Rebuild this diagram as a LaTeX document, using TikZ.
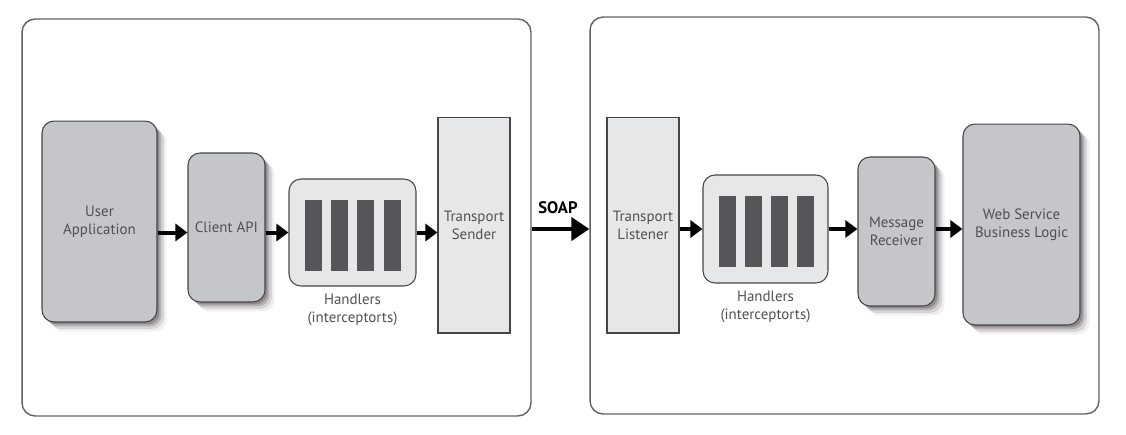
\documentclass[tikz,border=0pt]{standalone}
\usepackage{fontspec}
\setmainfont{PT Sans}
\usetikzlibrary{arrows.meta,shadows,positioning}

\definecolor{boxdark}{RGB}{196,198,202}
\definecolor{boxlight}{RGB}{230,231,232}
\definecolor{barfill}{RGB}{85,86,90}
\definecolor{edgegray}{RGB}{70,70,72}
\definecolor{textgray}{RGB}{80,80,82}
\definecolor{shadowgray}{RGB}{60,50,55}

\tikzset{
  panel/.style={draw=edgegray!85, line width=0.8pt, rounded corners=0.26cm,
    minimum width=10.18cm, minimum height=7.94cm, inner sep=0pt},
  boxtext/.style={text=textgray, align=center, inner sep=0pt,
    font=\fontsize{8.5}{10.4}\selectfont},
  darkbox/.style={boxtext, draw=edgegray, line width=0.6pt, fill=boxdark,
    rounded corners=0.24cm,
    drop shadow={shadow xshift=0.19cm, shadow yshift=-0.19cm, opacity=0.08, fill=shadowgray},
    drop shadow={shadow xshift=0.14cm, shadow yshift=-0.14cm, opacity=0.14, fill=shadowgray},
    drop shadow={shadow xshift=0.09cm, shadow yshift=-0.09cm, opacity=0.22, fill=shadowgray},
    drop shadow={shadow xshift=0.05cm, shadow yshift=-0.05cm, opacity=0.3, fill=shadowgray}},
  lightbox/.style={boxtext, draw=edgegray, line width=0.6pt, fill=boxlight},
  handlerbox/.style={lightbox, rounded corners=0.24cm},
  bar/.style={fill=barfill, minimum width=0.34cm, minimum height=1.42cm, inner sep=0pt},
  hlabel/.style={boxtext},
  flow/.style={-{Triangle[length=0.24cm, width=0.34cm]}, line width=0.08cm},
  bigflow/.style={-{Triangle[length=0.36cm, width=0.46cm]}, line width=0.08cm}
}

\begin{document}
\begin{tikzpicture}[x=0.02cm, y=-0.02cm]
\useasboundingbox (0,0) rectangle (1126,434);

% the two sides
\node[panel] (client) at (276.5,217.5) {};
\node[panel] (server) at (844.5,215.5) {};

% client side
\node[darkbox, minimum width=2.30cm, minimum height=4.02cm] (userapp) at (99.5,221.5) {User\\Application};
\node[darkbox, minimum width=1.54cm, minimum height=2.98cm] (clientapi) at (226.5,227.5) {Client API};
\node[handlerbox, minimum width=2.54cm, minimum height=2.14cm] (handlersA) at (352.5,232.5) {};
\foreach \bx [count=\i] in {313.5,339.5,365.5,392}
  \node[bar] (barA\i) at (\bx,235.5) {};
\node[hlabel, below=0.14cm of handlersA] (capA) {Handlers\\(interceptorts)};
\node[lightbox, minimum width=1.44cm, minimum height=4.32cm] (sender) at (474,225) {Transport\\Sender};

% server side
\node[lightbox, minimum width=1.44cm, minimum height=4.32cm] (listener) at (643,225) {Transport\\Listener};
\node[handlerbox, minimum width=2.50cm, minimum height=2.16cm] (handlersB) at (765.5,229) {};
\foreach \bx [count=\i] in {727,753,779.5,805.5}
  \node[bar] (barB\i) at (\bx,231.5) {};
\node[hlabel, below=0.14cm of handlersB] (capB) {Handlers\\(interceptorts)};
\node[darkbox, minimum width=1.54cm, minimum height=2.98cm] (receiver) at (896.5,231.5) {Message\\Receiver};
\node[darkbox, minimum width=2.34cm, minimum height=4.02cm] (logic) at (1021.5,224.5) {Web Service\\Business Logic};

% arrows
\draw[flow] (userapp.east |- handlersA.west) -- (clientapi.west |- handlersA.west);
\draw[flow] (clientapi.east |- handlersA.west) -- (handlersA.west);
\draw[flow] (handlersA.east) -- (sender.west |- handlersA.east);
\draw[bigflow] (client.east |- handlersB.west) -- (server.west |- handlersB.west);
\draw[flow] (listener.east |- handlersB.west) -- (handlersB.west);
\draw[flow] (handlersB.east) -- (receiver.west |- handlersB.east);
\draw[flow] (receiver.east |- handlersB.east) -- (logic.west |- handlersB.east);

\node[font=\fontsize{9.5}{11}\selectfont\bfseries] (soap) at (558,208) {SOAP};
%\draw[red] (0,0) rectangle (1126,434);
\end{tikzpicture}
\end{document}
